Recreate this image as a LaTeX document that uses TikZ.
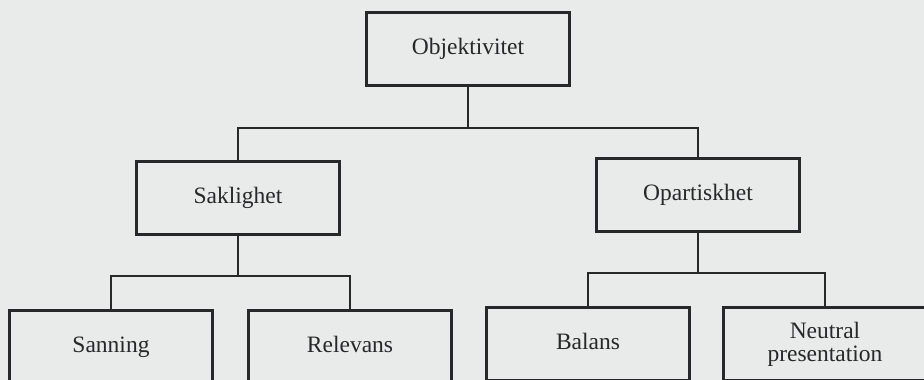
\documentclass[tikz,border=0pt]{standalone}
\usepackage{fontspec}
\setmainfont{Liberation Serif}
\usetikzlibrary{positioning}
\definecolor{paper}{RGB}{233,234,234}
\definecolor{ink}{RGB}{40,40,42}
\tikzset{
  box/.style={draw=ink,line width=2.5pt,rectangle,minimum width=203pt,minimum height=73pt,
    inner sep=0pt,align=center,text=ink,text height=16pt,text depth=5pt,
    font=\fontsize{23.5}{23}\selectfont},
  link/.style={draw=ink,line width=2.5pt}
}
\begin{document}
\begin{tikzpicture}[x=1pt,y=-1pt,node distance=3cm,on grid]
  \fill[paper] (0,0) rectangle (924,380);
  \useasboundingbox (0,0) rectangle (924,380);
  \clip (0,0) rectangle (924,380);
   \node[box] (obj) at (468,49) {Objektivitet};
   \node[box] (sak) [below left=149pt and 230pt of obj] {Saklighet};
   \node[box] (opa) [below right=146pt and 230pt of obj] {Opartiskhet};
   \node[box] (san) [below left=149pt and 127pt of sak] {Sanning};
   \node[box] (rel) [below right=149pt and 112pt of sak] {Relevans};
   \node[box] (bal) [below left=149pt and 110pt of opa] {Balans};
   \node[box,text height={},text depth={}] (neu) [below right=149pt and 127pt of opa] {Neutral\\presentation};
   % forks
   \path[link] (obj.south) -- ++(0,41) coordinate (objfork);
   \path[link] (sak.north) |- (objfork) -| (opa.north);
   \path[link] (sak.south) -- ++(0,40) coordinate (sakfork);
   \path[link] (san.north) |- (sakfork) -| (rel.north);
   \path[link] (opa.south) -- ++(0,40) coordinate (opafork);
   \path[link] (bal.north) |- (opafork) -| (neu.north);
\end{tikzpicture}
\end{document}
